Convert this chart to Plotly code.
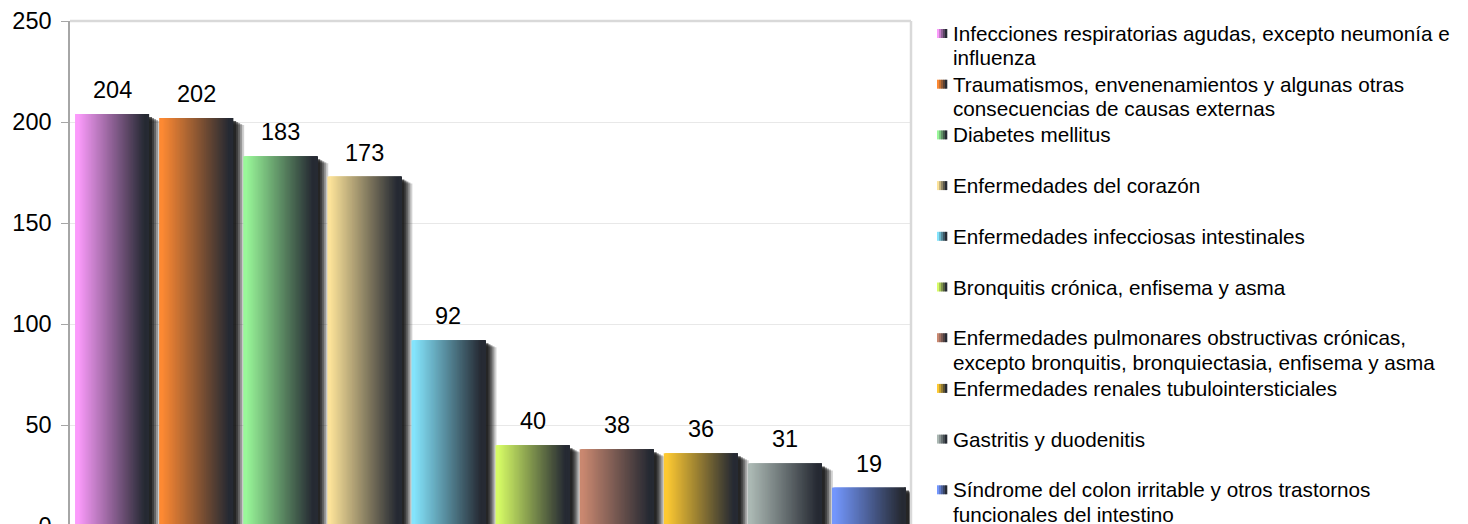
import plotly.graph_objects as go

# ---------------- data ----------------
categories = [
    "Infecciones respiratorias agudas, excepto neumonía e\ninfluenza",
    "Traumatismos, envenenamientos y algunas otras\nconsecuencias de causas externas",
    "Diabetes mellitus",
    "Enfermedades del corazón",
    "Enfermedades infecciosas intestinales",
    "Bronquitis crónica, enfisema y asma",
    "Enfermedades pulmonares obstructivas crónicas,\nexcepto bronquitis, bronquiectasia, enfisema y asma",
    "Enfermedades renales tubulointersticiales",
    "Gastritis y duodenitis",
    "Síndrome del colon irritable y otros trastornos\nfuncionales del intestino",
]
values = [204, 202, 183, 173, 92, 40, 38, 36, 31, 19]
y_tick_values = [0, 50, 100, 150, 200, 250]
y_tick_labels = ["0", "50", "100", "150", "200", "250"]

# ---------------- styles ----------------
base_colors = ["#fb9bfb", "#fd8933", "#99f799", "#fbe299", "#84e4fc",
               "#d6fb66", "#c98870", "#fdc932", "#abb8b3", "#7396fc"]
dark_color = "#262a33"
FONT = "Liberation Sans, Arial, sans-serif"

W, H = 1468, 524
L, R, T, B = 62, 565, 13, 6
plot_w = W - L - R
plot_h = H - T - B
y_min, y_max = 0, 250
px_per_unit = plot_h / (y_max - y_min)
px_per_cat = plot_w / len(categories)
OFF = 8  # page offset of the figure (body margin)

x_names = [c.replace("\n", " ") for c in categories]


def hex2rgb(h):
    h = h.lstrip("#")
    return tuple(int(h[i:i + 2], 16) for i in (0, 2, 4))


def lerp(c1, c2, t):
    a, b = hex2rgb(c1), hex2rgb(c2)
    return "rgb(%d,%d,%d)" % tuple(round(a[i] + (b[i] - a[i]) * t) for i in range(3))


def px_x(x):  # page px -> paper
    return (x - OFF - L) / plot_w


def px_y(y):  # page px -> paper
    return (H - B - (y - OFF)) / plot_h


fig = go.Figure()

bar_w = 0.88
half = bar_w / 2

# shadow layers (dx px, dy px, alpha)
shadow_layers = [(3, 3, 0.7), (5, 4, 0.5), (7, 5, 0.4), (9, 6, 0.3), (11, 7, 0.2)]
for dx, dy, a in shadow_layers:
    fig.add_trace(go.Bar(
        x=x_names, y=[v - dy / px_per_unit for v in values],
        offset=-half + dx / px_per_cat, width=bar_w,
        marker=dict(color="rgba(25,25,25,%.2f)" % a, line=dict(width=0)),
        showlegend=False, hoverinfo="skip",
    ))

# gradient strips (each strip overlaps the next to avoid seams)
N = 60
sw = bar_w / N
for k in range(N):
    t = (k + 0.5) / N
    f = min(1.0, max(0.0, (t - 0.04) / 0.9))
    cols = [lerp(c, dark_color, f) for c in base_colors]
    w = min(sw * 3, bar_w - k * sw)
    fig.add_trace(go.Bar(
        x=x_names, y=values,
        offset=-half + k * sw, width=w,
        marker=dict(color=cols, line=dict(width=0)),
        showlegend=False, hoverinfo="skip",
    ))

annotations = []
shapes = []

NUM_FS = 23.5

# data labels
for name, v in zip(x_names, values):
    annotations.append(dict(
        x=name, y=v, xref="x", yref="y", text=str(v), showarrow=False,
        xanchor="center", yanchor="middle", yshift=24,
        font=dict(family=FONT, size=NUM_FS, color="#000000"),
    ))

# legend (text + gradient squares)
LEG_FS = 20.7
for k, (cat, col) in enumerate(zip(categories, base_colors)):
    base_line = 40.7 + 50.7 * k
    for j, line in enumerate(cat.split("\n")):
        bl = base_line + 24.3 * j
        annotations.append(dict(
            x=px_x(951), y=px_y(bl - 0.3465 * LEG_FS), xref="paper", yref="paper",
            text=line, showarrow=False, xanchor="left", yanchor="middle",
            font=dict(family=FONT, size=LEG_FS, color="#000000"),
        ))
    cy = base_line - 7.2
    ns = 5
    for s in range(ns):
        x0 = 937 + s * 2
        shapes.append(dict(
            type="rect", xref="paper", yref="paper",
            x0=px_x(x0), x1=px_x(x0 + 2.3), y0=px_y(cy + 4.5), y1=px_y(cy - 4.5),
            line=dict(width=0), fillcolor=lerp(col, dark_color, s / (ns - 1)),
        ))

# plot area top and right borders
shapes.append(dict(type="line", xref="paper", yref="paper", x0=0, x1=1, y0=1, y1=1,
                   line=dict(color="#d9d9d9", width=2.5)))
shapes.append(dict(type="line", xref="paper", yref="paper", x0=1, x1=1, y0=0, y1=1,
                   line=dict(color="#d9d9d9", width=2.5)))

fig.update_layout(
    width=W, height=H,
    margin=dict(l=L, r=R, t=T, b=B, autoexpand=False),
    paper_bgcolor="#ffffff", plot_bgcolor="#ffffff",
    barmode="overlay",
    showlegend=False,
    font=dict(family=FONT, color="#000000"),
    annotations=annotations,
    shapes=shapes,
    xaxis=dict(type="category", range=[-0.5, len(categories) - 0.5],
               showticklabels=False, showgrid=False, zeroline=False, ticks="",
               showline=False),
    yaxis=dict(range=[y_min, y_max], tickvals=y_tick_values, ticktext=y_tick_labels,
               showgrid=True, gridcolor="#e8e8e8", gridwidth=1, zeroline=False,
               showline=True, linecolor="#a6a6a6", linewidth=1.5,
               ticks="outside", ticklen=7, tickcolor="#a6a6a6", tickwidth=1,
               ticklabelstandoff=5, ticklabeloverflow="allow",
               tickfont=dict(family=FONT, size=NUM_FS, color="#000000")),
)

fig.write_html("out.html")
